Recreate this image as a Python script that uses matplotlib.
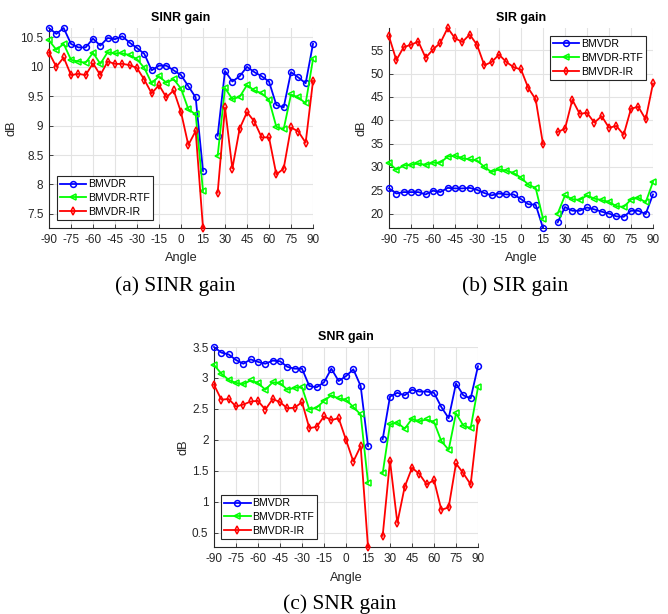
import numpy as np
import matplotlib
matplotlib.use("Agg")
import matplotlib.pyplot as plt

angles = list(range(-90, 16, 5)) + [20] + list(range(25, 91, 5))
nan = np.nan

sinr_bmvdr = [10.66, 10.56, 10.66, 10.39, 10.33, 10.33, 10.48, 10.36, 10.49, 10.47, 10.52, 10.41,
              10.32, 10.22, 9.94, 10.02, 10.02, 9.94, 9.86, 9.67, 9.48, 8.23, nan,
              8.83, 9.93, 9.75, 9.84, 10.0, 9.91, 9.84, 9.75, 9.35, 9.31, 9.91, 9.82, 9.72, 10.39]
sinr_rtf = [10.45, 10.29, 10.39, 10.12, 10.09, 10.07, 10.24, 10.05, 10.25, 10.23, 10.23, 10.2,
            10.13, 9.98, 9.72, 9.84, 9.73, 9.79, 9.63, 9.28, 9.19, 7.89, nan,
            8.49, 9.64, 9.45, 9.49, 9.69, 9.6, 9.55, 9.44, 8.98, 8.94, 9.53, 9.48, 9.38, 10.13]
sinr_ir = [10.24, 10.0, 10.16, 9.86, 9.88, 9.86, 10.06, 9.86, 10.09, 10.05, 10.05, 10.03,
           9.98, 9.78, 9.55, 9.69, 9.48, 9.6, 9.23, 8.67, 8.91, 7.26, nan,
           7.86, 9.31, 8.27, 8.95, 9.23, 9.07, 8.8, 8.8, 8.17, 8.27, 8.97, 8.9, 8.71, 9.76]

sir_bmvdr = [25.4, 24.3, 24.6, 24.6, 24.6, 24.1, 24.9, 24.6, 25.5, 25.4, 25.4, 25.5,
             25.1, 24.4, 23.9, 24.3, 24.1, 24.1, 23.1, 22.0, 21.9, 16.9, nan,
             18.1, 21.4, 20.6, 20.6, 21.3, 20.9, 20.4, 20.0, 19.4, 19.3, 20.6, 20.6, 19.9, 24.1]
sir_rtf = [30.9, 29.4, 30.3, 30.4, 30.8, 30.4, 30.9, 30.9, 32.2, 32.4, 31.9, 31.6,
           31.4, 30.0, 28.9, 29.5, 29.2, 28.7, 27.7, 26.2, 25.5, 18.9, nan,
           20.0, 23.9, 23.1, 22.9, 23.9, 23.2, 22.9, 22.5, 21.6, 21.4, 23.0, 23.4, 22.4, 26.8]
sir_ir = [58.0, 52.9, 55.7, 56.2, 56.9, 53.4, 55.2, 56.6, 59.8, 57.6, 56.8, 58.4,
          56.2, 51.8, 52.5, 54.1, 52.5, 51.4, 50.9, 46.9, 44.5, 34.9, nan,
          37.5, 38.2, 44.4, 41.4, 41.6, 39.5, 40.9, 38.4, 38.8, 36.9, 42.5, 42.9, 40.2, 47.9]

snr_bmvdr = [3.5, 3.41, 3.38, 3.29, 3.23, 3.30, 3.26, 3.23, 3.28, 3.27, 3.18, 3.15,
             3.15, 2.87, 2.85, 2.93, 3.15, 2.95, 3.03, 3.14, 2.87, 1.90, nan,
             2.01, 2.70, 2.76, 2.72, 2.81, 2.78, 2.78, 2.76, 2.53, 2.35, 2.91, 2.72, 2.67, 3.19]
snr_rtf = [3.21, 3.07, 2.97, 2.92, 2.90, 2.96, 2.92, 2.81, 2.93, 2.92, 2.81, 2.84,
           2.85, 2.49, 2.52, 2.63, 2.72, 2.67, 2.65, 2.53, 2.41, 1.31, nan,
           1.46, 2.25, 2.28, 2.18, 2.34, 2.30, 2.33, 2.29, 1.98, 1.84, 2.43, 2.23, 2.19, 2.85]
snr_ir = [2.89, 2.65, 2.66, 2.54, 2.57, 2.62, 2.63, 2.49, 2.66, 2.61, 2.51, 2.52,
          2.61, 2.19, 2.21, 2.38, 2.32, 2.35, 2.0, 1.65, 1.90, 0.27, nan,
          0.45, 1.66, 0.66, 1.24, 1.55, 1.45, 1.28, 1.35, 0.87, 0.91, 1.62, 1.46, 1.28, 2.32]

labels = ["BMVDR", "BMVDR-RTF", "BMVDR-IR"]
colors = ["#0000ff", "#00ff00", "#ff0000"]
markers = ["o", "<", "d"]

xticks = list(range(-90, 91, 15))
sinr_yticks = [7.5, 8, 8.5, 9, 9.5, 10, 10.5]
sir_yticks = [20, 25, 30, 35, 40, 45, 50, 55]
snr_yticks = [0.5, 1, 1.5, 2, 2.5, 3, 3.5]

plt.rcParams['font.family'] = ['Liberation Sans', 'DejaVu Sans']
plt.rcParams['axes.unicode_minus'] = False

fig = plt.figure(figsize=(6.68, 6.14), dpi=100)
W, H = 668.0, 614.0

def make_ax(left, top, right, bottom):
    return fig.add_axes([left / W, 1 - bottom / H, (right - left) / W, (bottom - top) / H])

panels = [
    (make_ax(49, 28, 313, 228), "SINR gain", [sinr_bmvdr, sinr_rtf, sinr_ir], sinr_yticks,
     "lower left", (0.03, 0.04), "(a) SINR gain", 175, 286),
    (make_ax(389, 28, 653, 228), "SIR gain", [sir_bmvdr, sir_rtf, sir_ir], sir_yticks,
     "upper right", (0.973, 0.96), "(b) SIR gain", 515, 286),
    (make_ax(214, 347, 478, 547), "SNR gain", [snr_bmvdr, snr_rtf, snr_ir], snr_yticks,
     "lower left", (0.027, 0.04), "(c) SNR gain", 340, 604),
]

for ax, title, series, yt, loc, anchor, cap, cx, cy in panels:
    for s, lab, c, m in zip(series, labels, colors, markers):
        ax.plot(angles, s, color=c, marker=m, lw=1.3, ms=4.2, mfc='none', mew=1.1,
                label=lab, clip_on=False, zorder=3)
    allv = np.array(series, dtype=float)
    ax.set_xlim(-90, 90)
    ax.set_ylim(np.nanmin(allv), np.nanmax(allv))
    ax.set_xticks(xticks)
    ax.set_yticks(yt)
    ax.set_yticklabels([("%g" % v) for v in yt])
    ax.grid(True, color="#e3e3e3", lw=0.8)
    ax.set_axisbelow(True)
    for sp in ["top", "right"]:
        ax.spines[sp].set_visible(False)
    for sp in ["left", "bottom"]:
        ax.spines[sp].set_color("#262626")
        ax.spines[sp].set_linewidth(0.8)
    ax.tick_params(direction="in", length=3, width=0.6, colors="#262626", labelsize=8.5,
                   labelcolor="#262626", pad=4)
    ax.set_title(title, fontsize=9, fontweight="bold", color="#000000", pad=5)
    ax.set_xlabel("Angle", fontsize=9.2, color="#262626", labelpad=5)
    ax.set_ylabel("dB", fontsize=9.2, color="#262626", labelpad=2)
    leg = ax.legend(loc=loc, bbox_to_anchor=anchor, fontsize=7.6, frameon=True, fancybox=False,
                    edgecolor="#262626", framealpha=1, borderpad=0.3, labelspacing=0.35,
                    handlelength=2.5, handletextpad=0.15, borderaxespad=0)
    leg.get_frame().set_linewidth(0.8)
    leg.set_zorder(5)
    fig.text(cx / W, 1 - cy / H, cap, ha="center", va="center", fontsize=15.5,
             family=["Liberation Serif", "DejaVu Serif"])

fig.savefig("out.png", dpi=100)
